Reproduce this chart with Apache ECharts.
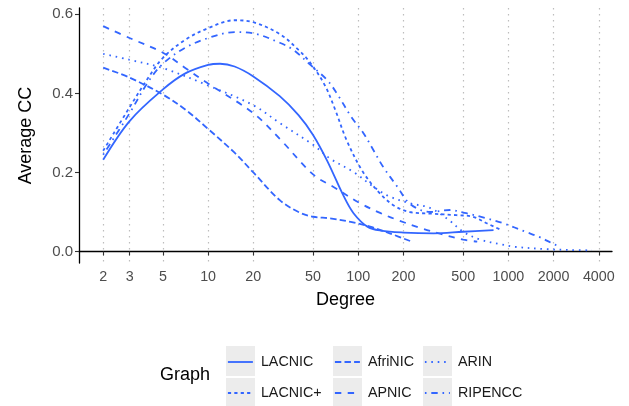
<!DOCTYPE html>
<html><head><meta charset="utf-8">
<script src="https://cdn.jsdelivr.net/npm/echarts@6/dist/echarts.min.js"></script>
<style>html,body{margin:0;padding:0;background:#fff}#c{width:629px;height:406px}</style>
</head><body><div id="c"></div>
<script>
// Tick labels
const xTicks = [2, 3, 5, 10, 20, 50, 100, 200, 500, 1000, 2000, 4000];
const yTicks = [0, 0.2, 0.4, 0.6];

// Series values (degree, average clustering coefficient)
const lacnicDeg = [2, 3, 5, 7, 10, 12, 15, 20, 30, 40, 50, 62, 80, 93, 115, 141, 200, 317, 500, 796];
const lacnicCC  = [0.232, 0.33, 0.41, 0.45, 0.472, 0.475, 0.468, 0.443, 0.393, 0.345, 0.295, 0.23, 0.14, 0.097, 0.063, 0.053, 0.048, 0.046, 0.05, 0.054];

const lacnicPlusDeg = [2, 3, 4, 5, 7, 10, 15, 20, 30, 40, 48, 60, 70, 84, 108, 141, 175, 220, 300, 450, 580, 723, 900];
const lacnicPlusCC  = [0.255, 0.365, 0.44, 0.49, 0.535, 0.565, 0.585, 0.58, 0.55, 0.51, 0.477, 0.42, 0.36, 0.28, 0.2, 0.145, 0.115, 0.1, 0.096, 0.092, 0.088, 0.071, 0.054];

const afrinicDeg = [2, 3, 5, 7, 10, 15, 20, 30, 40, 50, 65, 89, 120, 162, 227];
const afrinicCC  = [0.465, 0.44, 0.397, 0.36, 0.31, 0.25, 0.2, 0.13, 0.1, 0.088, 0.084, 0.075, 0.063, 0.046, 0.025];

const apnicDeg = [2, 3, 5, 7, 10, 20, 30, 50, 68, 103, 141, 182, 262, 350, 500, 620];
const apnicCC  = [0.57, 0.54, 0.503, 0.465, 0.425, 0.35, 0.285, 0.195, 0.164, 0.122, 0.097, 0.08, 0.059, 0.045, 0.03, 0.025];

const arinDeg = [2, 3, 5, 10, 20, 30, 50, 65, 94, 126, 162, 222, 302, 400, 500, 650, 900, 1100, 1800, 2500, 3600];
const arinCC  = [0.5, 0.485, 0.464, 0.42, 0.37, 0.325, 0.27, 0.235, 0.2, 0.164, 0.139, 0.122, 0.11, 0.08, 0.05, 0.03, 0.018, 0.012, 0.006, 0.004, 0.003];

const ripeDeg = [2, 3, 4, 5, 7, 10, 15, 20, 30, 37, 48, 62, 72, 90, 108, 126, 146, 182, 222, 302, 408, 524, 700, 932, 1300, 1600, 1950, 2200];
const ripeCC  = [0.245, 0.35, 0.43, 0.475, 0.515, 0.54, 0.555, 0.552, 0.528, 0.51, 0.472, 0.434, 0.40, 0.34, 0.3, 0.257, 0.215, 0.164, 0.12, 0.1, 0.105, 0.097, 0.085, 0.071, 0.05, 0.037, 0.021, 0.012];

const BLUE = '#3366FF';
const LW = 1.8;
function pts(d, c) { return d.map((v, i) => [Math.log10(v), c[i]]); }
function mk(name, d, c, dash) {
  return {
    name: name, type: 'line', data: pts(d, c), smooth: 0.35, symbol: 'none', showSymbol: false,
    lineStyle: { color: BLUE, width: LW, type: dash, cap: 'butt' },
    itemStyle: { color: BLUE }, emphasis: { disabled: true }, silent: true
  };
}
const series = [
  mk('LACNIC', lacnicDeg, lacnicCC, 'solid'),
  mk('LACNIC+', lacnicPlusDeg, lacnicPlusCC, [3.2, 3.2]),
  mk('AfriNIC', afrinicDeg, afrinicCC, [6.4, 3.2]),
  mk('APNIC', apnicDeg, apnicCC, [6.4, 6.4]),
  mk('ARIN', arinDeg, arinCC, [1.6, 4.8]),
  mk('RIPENCC', ripeDeg, ripeCC, [1.6, 4.8, 6.4, 4.8])
];

const legendBase = {
  orient: 'vertical', itemWidth: 25, itemHeight: 30, itemGap: 2, padding: 0,
  selectedMode: false,
  itemStyle: { opacity: 0, color: 'transparent', borderWidth: 0 },
  lineStyle: { width: LW },
  textStyle: { fontFamily: 'Liberation Sans', fontSize: 14.3, color: '#1a1a1a', padding: [0, 0, 0, 3] }
};
function lg(name, left, top) { return Object.assign({}, legendBase, { left: left, top: top, data: [name] }); }

const chart = echarts.init(document.getElementById('c'), null, { renderer: 'canvas' });
chart.setOption({
  animation: false,
  backgroundColor: '#ffffff',
  grid: { left: 79, right: 17, top: 8, bottom: 143, outerBoundsMode: 'none', containLabel: false },
  xAxis: {
    type: 'value', min: 0.14, max: 3.69,
    name: 'Degree', nameLocation: 'middle', nameGap: 28,
    nameTextStyle: { fontFamily: 'Liberation Sans', fontSize: 18, color: '#000' },
    axisLine: { show: true, lineStyle: { color: '#000', width: 1.3 } },
    axisTick: { show: true, length: 4, customValues: xTicks.map(v => Math.log10(v)), lineStyle: { color: '#333', width: 1.1 } },
    axisLabel: {
      customValues: xTicks.map(v => Math.log10(v)), margin: 7,
      fontFamily: 'Liberation Sans', fontSize: 14.3, color: '#4d4d4d',
      formatter: v => String(Math.round(Math.pow(10, v)))
    },
    splitLine: { show: true, lineStyle: { color: '#bdbdbd', width: 1.2, type: [1.5, 4.5] } }
  },
  yAxis: {
    type: 'value', min: -0.029, max: 0.616,
    name: 'Average CC', nameLocation: 'middle', nameGap: 44, nameRotate: 90,
    nameTextStyle: { fontFamily: 'Liberation Sans', fontSize: 18, color: '#000' },
    axisLine: { show: true, lineStyle: { color: '#000', width: 1.3 } },
    axisTick: { show: true, length: 4, customValues: yTicks, lineStyle: { color: '#333', width: 1.1 } },
    axisLabel: {
      customValues: yTicks, margin: 6,
      fontFamily: 'Liberation Sans', fontSize: 15, color: '#4d4d4d',
      formatter: v => v.toFixed(1)
    },
    splitLine: { show: false }
  },
  legend: [
    lg('LACNIC', 227, 350), lg('LACNIC+', 227, 381),
    lg('AfriNIC', 334, 350), lg('APNIC', 334, 381),
    lg('ARIN', 424, 350), lg('RIPENCC', 424, 381)
  ],
  graphic: [
    { type: 'rect', left: 226, top: 346, shape: { width: 29, height: 30 }, style: { fill: '#ececec' }, z: 0, silent: true },
    { type: 'rect', left: 226, top: 378, shape: { width: 29, height: 30 }, style: { fill: '#ececec' }, z: 0, silent: true },
    { type: 'rect', left: 333, top: 346, shape: { width: 29, height: 30 }, style: { fill: '#ececec' }, z: 0, silent: true },
    { type: 'rect', left: 333, top: 378, shape: { width: 29, height: 30 }, style: { fill: '#ececec' }, z: 0, silent: true },
    { type: 'rect', left: 423, top: 346, shape: { width: 29, height: 30 }, style: { fill: '#ececec' }, z: 0, silent: true },
    { type: 'rect', left: 423, top: 378, shape: { width: 29, height: 30 }, style: { fill: '#ececec' }, z: 0, silent: true },
    { type: 'text', left: 160, top: 366, style: { text: 'Graph', font: '18px "Liberation Sans"', fill: '#000' }, z: 5, silent: true }
  ],
  series: series
});
</script></body></html>
